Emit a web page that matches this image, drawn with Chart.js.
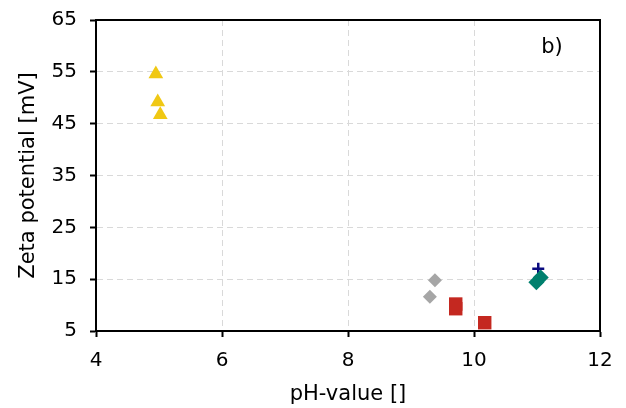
<!DOCTYPE html>
<html><head><meta charset="utf-8">
<script src="https://cdn.jsdelivr.net/npm/chart.js@4"></script>
<style>html,body{margin:0;padding:0;background:#fff}#wrap{width:626px;height:408px}</style>
</head><body><div id="wrap"><canvas id="c" width="626" height="408"></canvas></div>
<script>
const panelLabel = "b)";
const xTitle = "pH-value []";
const yTitle = "Zeta potential [mV]";
const xTicks = [4, 6, 8, 10, 12];
const yTicks = [5, 15, 25, 35, 45, 55, 65];

const yellowPH = [4.95, 4.98, 5.02];
const yellowZeta = [54.6, 49.2, 46.7];
const greyPH = [9.38, 9.30];
const greyZeta = [14.8, 11.6];
const redPH = [9.71, 9.71, 10.17];
const redZeta = [10.2, 9.3, 6.6];
const bluePH = [11.02];
const blueZeta = [17.0];
const tealPH = [11.06, 10.99];
const tealZeta = [15.3, 14.4];

const pts = (xs, ys) => xs.map((x, i) => ({x, y: ys[i]}));
const FONT = "'DejaVu Sans', Verdana, sans-serif";

const boxPlugin = {
  id: 'box',
  afterDraw(chart) {
    const {ctx, chartArea: a} = chart;
    ctx.save();
    ctx.strokeStyle = '#000'; ctx.lineWidth = 2;
    ctx.strokeRect(a.left, a.top, a.right - a.left, a.bottom - a.top);
    ctx.fillStyle = '#000';
    ctx.font = "21px " + FONT;
    ctx.textAlign = 'center'; ctx.textBaseline = 'middle';
    ctx.fillText(panelLabel, a.right - 48, a.top + 28);
    ctx.restore();
  }
};

new Chart(document.getElementById('c'), {
  type: 'scatter',
  data: {
    datasets: [
      {data: pts(bluePH, blueZeta), pointStyle: 'cross', pointRadius: 6, borderColor: '#0a0a80', backgroundColor: '#0a0a80', pointBorderWidth: 2.5, order: 2},
      {data: pts(tealPH, tealZeta), pointStyle: 'rectRot', pointRadius: 8, backgroundColor: '#00806e', borderColor: '#00806e', pointBorderWidth: 0, order: 1},
      {data: pts(yellowPH, yellowZeta), pointStyle: 'triangle', pointRadius: 8.5, backgroundColor: '#f0c814', borderColor: '#f0c814', pointBorderWidth: 0},
      {data: pts(greyPH, greyZeta), pointStyle: 'rectRot', pointRadius: 7, backgroundColor: '#a6a6a6', borderColor: '#a6a6a6', pointBorderWidth: 0},
      {data: pts(redPH, redZeta), pointStyle: 'rect', pointRadius: 9.5, backgroundColor: '#c42820', borderColor: '#c42820', pointBorderWidth: 0}
    ]
  },
  options: {
    responsive: false,
    animation: false,
    events: [],
    layout: {padding: {left: 0, right: 26, top: 20, bottom: 0}},
    plugins: {legend: {display: false}, tooltip: {enabled: false}},
    scales: {
      x: {
        type: 'linear', min: 4, max: 12,
        afterBuildTicks: s => { s.ticks = xTicks.map(v => ({value: v})); },
        afterFit: s => { s.height = 77; s.paddingLeft = 0; s.paddingRight = 0; },
        grid: {color: '#d9d9d9', lineWidth: 1, drawTicks: true, tickLength: 6, tickColor: '#000', tickWidth: 2},
        border: {display: true, color: '#000', width: 2, dash: [6, 4]},
        ticks: {color: '#000', font: {family: FONT, size: 20}, padding: 12, maxRotation: 0},
        title: {display: true, text: xTitle, color: '#000', font: {family: FONT, size: 21}, padding: {top: 0, bottom: 1}}
      },
      y: {
        type: 'linear', min: 5, max: 65,
        afterBuildTicks: s => { s.ticks = yTicks.map(v => ({value: v})); },
        afterFit: s => { s.width = 96; s.paddingTop = 0; s.paddingBottom = 0; },
        grid: {color: '#d9d9d9', lineWidth: 1, drawTicks: true, tickLength: 6, tickColor: '#000', tickWidth: 2},
        border: {display: true, color: '#000', width: 2, dash: [6, 4]},
        ticks: {color: '#000', font: {family: FONT, size: 20}, padding: 13},
        title: {display: true, text: yTitle, color: '#000', font: {family: FONT, size: 21}, padding: {top: 16, bottom: 0}}
      }
    }
  },
  plugins: [boxPlugin]
});
</script></body></html>
